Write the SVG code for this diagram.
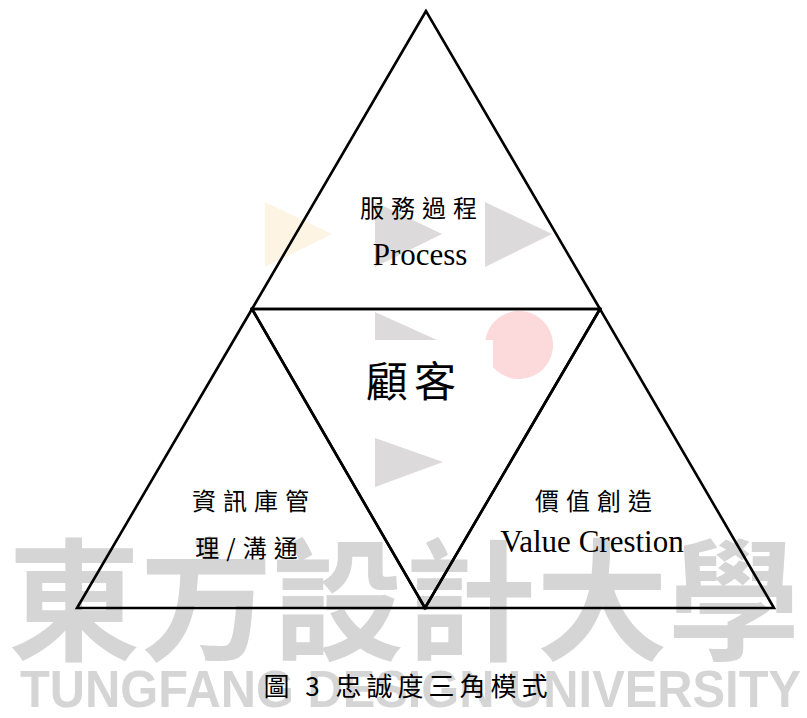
<svg xmlns="http://www.w3.org/2000/svg" width="807" height="718" viewBox="0 0 807 718">
<style>
.tri{fill:none;stroke:#000;stroke-width:2.6;stroke-linejoin:miter}
.cjk{font-family:"Noto Sans CJK TC","Noto Sans CJK SC",sans-serif;fill:#000;text-anchor:middle}
.lat{font-family:"Liberation Serif","Times New Roman",serif;fill:#000;text-anchor:middle}
.wm{fill:#d5d5d5}
.wtri{fill:#dcdadb}
</style>
<rect width="807" height="718" fill="#fff"/>
<g id="watermark">
<polygon points="265,202 332,234 265,267" fill="#fdf4e4"/>
<polygon class="wtri" points="375,202 442,234 375,267"/>
<polygon class="wtri" points="485,202 552,234 485,267"/>
<polygon class="wtri" points="375,312 437,340 375,340"/>
<polygon class="wtri" points="375,438 443,462 375,487"/>
<path d="M485.4,340 A34,34 0 1 1 493,366.9 L493,340 Z" fill="#fcd9db"/>
<text x="8" y="650" class="wm" font-family="Noto Sans CJK TC, sans-serif" font-weight="bold" font-size="132" textLength="792" lengthAdjust="spacingAndGlyphs">東方設計大學</text>
<text x="20" y="707" class="wm" font-family="Liberation Sans, Arial, sans-serif" font-weight="bold" font-size="52" textLength="781" lengthAdjust="spacingAndGlyphs">TUNGFANG DESIGN UNIVERSITY</text>
</g>
<g id="connectors">
<polygon class="tri" points="426,11 252,309 600,309"/>
<polygon class="tri" points="252,309 77,608 425,608"/>
<polygon class="tri" points="600,309 425,608 774,608"/>
<polygon class="tri" points="252,309 600,309 425,608"/>
</g>
<g id="node-process">
<text class="cjk" x="422" y="217" font-size="24" letter-spacing="7">服務過程</text>
<text class="lat" x="420" y="265" font-size="31">Process</text>
</g>
<g id="node-customer">
<text class="cjk" x="414" y="397" font-size="42" letter-spacing="6">顧客</text>
</g>
<g id="node-database">
<text class="cjk" x="254" y="510" font-size="24" letter-spacing="7">資訊庫管</text>
<text class="cjk" x="250" y="557" font-size="24" letter-spacing="7">理/溝通</text>
</g>
<g id="node-value">
<text class="cjk" x="597" y="510" font-size="24" letter-spacing="7">價值創造</text>
<text class="lat" x="592" y="552" font-size="31">Value Crestion</text>
</g>
<g id="caption">
<text class="cjk" x="408" y="696" font-size="26" letter-spacing="5">圖 3 忠誠度三角模式</text>
</g>
</svg>
